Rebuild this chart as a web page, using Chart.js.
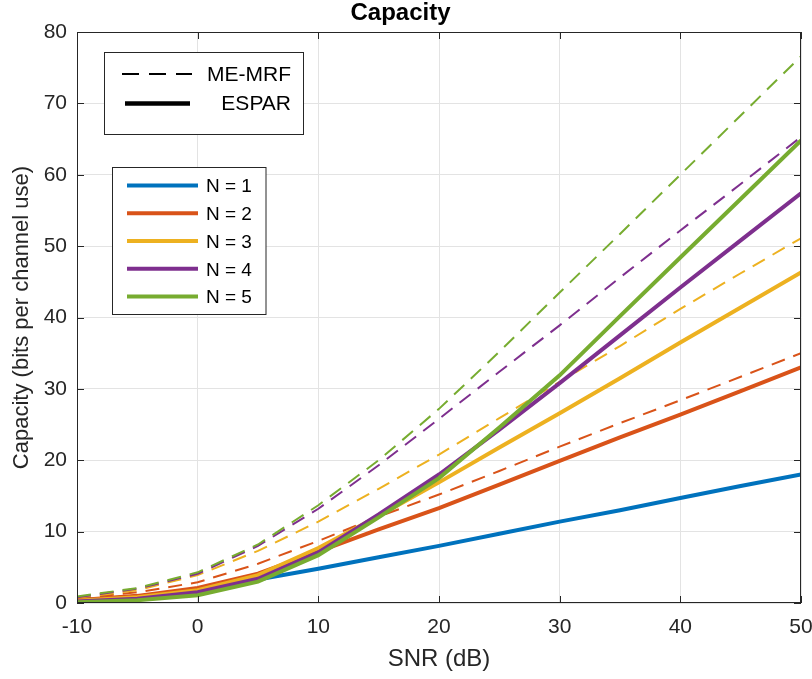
<!DOCTYPE html>
<html>
<head>
<meta charset="utf-8">
<script src="https://cdn.jsdelivr.net/npm/chart.js@4.4.1/dist/chart.umd.min.js"></script>
<style>
  html, body { margin: 0; padding: 0; background: #ffffff; }
  #wrap { width: 812px; height: 679px; }
</style>
</head>
<body>
<div id="wrap"><canvas id="c" width="812" height="679"></canvas></div>
<script>
// ---- Data ----
const snrDb = [-10, -5, 0, 5, 10, 15, 20, 25, 30, 35, 40, 45, 50];

// ESPAR (solid lines)
const esparN1 = [0.35, 0.9, 1.8, 3.3, 4.8, 6.4, 8.0, 9.7, 11.4, 13.0, 14.7, 16.4, 18.0];
const esparN2 = [0.4, 1.0, 2.1, 4.1, 7.2, 10.3, 13.3, 16.6, 19.9, 23.2, 26.4, 29.7, 33.0];
const esparN3 = [0.3, 0.8, 1.8, 3.9, 7.7, 12.2, 16.9, 21.8, 26.6, 31.5, 36.5, 41.4, 46.3];
const esparN4 = [0.2, 0.6, 1.5, 3.4, 7.1, 12.4, 18.0, 24.3, 30.8, 37.5, 44.2, 50.8, 57.4];
const esparN5 = [0.1, 0.4, 1.1, 3.0, 6.7, 12.0, 17.5, 24.6, 31.9, 40.2, 48.4, 56.6, 64.8];

// ME-MRF (dashed lines)
const memrfN1 = [0.45, 1.0, 1.9, 3.3, 4.8, 6.4, 8.0, 9.7, 11.4, 13.0, 14.7, 16.4, 18.0];
const memrfN2 = [0.6, 1.5, 2.9, 5.5, 8.7, 12.1, 15.2, 18.5, 21.9, 25.2, 28.4, 31.7, 35.0];
const memrfN3 = [0.7, 1.8, 3.9, 7.3, 11.4, 16.0, 20.8, 25.9, 31.0, 36.0, 41.2, 46.2, 51.1];
const memrfN4 = [0.8, 2.0, 4.1, 8.0, 13.2, 19.3, 25.8, 32.4, 38.9, 45.6, 52.2, 58.7, 65.3];
const memrfN5 = [0.9, 2.1, 4.3, 8.2, 13.7, 20.0, 27.2, 35.2, 43.5, 51.7, 60.0, 68.3, 76.6];

const xTickLabels = [-10, 0, 10, 20, 30, 40, 50];
const yTickLabels = [0, 10, 20, 30, 40, 50, 60, 70, 80];

const seriesNames = ['N = 1', 'N = 2', 'N = 3', 'N = 4', 'N = 5'];
const styleNames = ['ME-MRF', 'ESPAR'];
const titleText = 'Capacity';
const xTitle = 'SNR (dB)';
const yTitle = 'Capacity (bits per channel use)';

// ---- Styles ----
const colors = ['#0072BD', '#D95319', '#EDB120', '#7E2F8E', '#77AC30'];
const axisColor = '#262626';
const FONT = "'Liberation Sans', Arial, Helvetica, sans-serif";

const espar = [esparN1, esparN2, esparN3, esparN4, esparN5];
const memrf = [memrfN1, memrfN2, memrfN3, memrfN4, memrfN5];
const toPts = arr => snrDb.map((x, i) => ({ x: x, y: arr[i] }));

// dataset 0 is drawn on top in Chart.js; put ESPAR N=5 first
const datasets = [];
for (let n = 4; n >= 0; n--) {
  datasets.push({
    label: 'ESPAR ' + seriesNames[n],
    data: toPts(espar[n]),
    borderColor: colors[n],
    backgroundColor: colors[n],
    borderWidth: 4,
    pointRadius: 0,
    tension: 0,
    fill: false
  });
}
for (let n = 4; n >= 0; n--) {
  datasets.push({
    label: 'ME-MRF ' + seriesNames[n],
    data: toPts(memrf[n]),
    borderColor: colors[n],
    backgroundColor: colors[n],
    borderWidth: 2,
    borderDash: [14, 9],
    pointRadius: 0,
    tension: 0,
    fill: false
  });
}

const framePlugin = {
  id: 'matlabFrame',
  afterDraw(chart) {
    const ctx = chart.ctx;
    const a = chart.chartArea;
    const xs = chart.scales.x, ys = chart.scales.y;
    ctx.save();
    // frame
    ctx.strokeStyle = axisColor;
    ctx.lineWidth = 1;
    ctx.strokeRect(Math.round(a.left) + 0.5, Math.round(a.top) + 0.5,
                   Math.round(a.right - a.left) - 1, Math.round(a.bottom - a.top) - 1);
    // inward ticks
    const tl = 7;
    ctx.beginPath();
    xTickLabels.forEach(v => {
      const px = Math.round(xs.getPixelForValue(v)) + 0.5;
      ctx.moveTo(px, a.bottom); ctx.lineTo(px, a.bottom - tl);
      ctx.moveTo(px, a.top); ctx.lineTo(px, a.top + tl);
    });
    yTickLabels.forEach(v => {
      const py = Math.round(ys.getPixelForValue(v)) + 0.5;
      ctx.moveTo(a.left, py); ctx.lineTo(a.left + tl, py);
      ctx.moveTo(a.right, py); ctx.lineTo(a.right - tl, py);
    });
    ctx.stroke();

    // legend 1 : line styles
    ctx.fillStyle = '#ffffff';
    ctx.fillRect(104.5, 52.5, 199, 82);
    ctx.strokeStyle = axisColor;
    ctx.lineWidth = 1;
    ctx.strokeRect(104.5, 52.5, 199, 82);
    ctx.strokeStyle = '#000000';
    ctx.lineWidth = 2;
    ctx.setLineDash([17, 10]);
    ctx.beginPath(); ctx.moveTo(122, 74); ctx.lineTo(192, 74); ctx.stroke();
    ctx.setLineDash([]);
    ctx.lineWidth = 4.5;
    ctx.beginPath(); ctx.moveTo(125, 103.5); ctx.lineTo(190, 103.5); ctx.stroke();
    ctx.fillStyle = '#000000';
    ctx.font = '21px ' + FONT;
    ctx.textBaseline = 'middle';
    ctx.textAlign = 'right';
    ctx.fillText(styleNames[0], 291, 75);
    ctx.fillText(styleNames[1], 291, 104.5);

    // legend 2 : colours
    ctx.fillStyle = '#ffffff';
    ctx.fillRect(112.5, 167.5, 153.5, 147);
    ctx.strokeStyle = axisColor;
    ctx.lineWidth = 1;
    ctx.strokeRect(112.5, 167.5, 153.5, 147);
    const ys2 = [185.5, 213.3, 241, 268.8, 296.6];
    ctx.font = '19px ' + FONT;
    ctx.textAlign = 'left';
    for (let n = 0; n < 5; n++) {
      ctx.strokeStyle = colors[n];
      ctx.lineWidth = 4;
      ctx.beginPath(); ctx.moveTo(127, ys2[n]); ctx.lineTo(198, ys2[n]); ctx.stroke();
      ctx.fillStyle = '#000000';
      ctx.fillText(seriesNames[n], 206, ys2[n] + 1.5);
    }
    ctx.restore();
  }
};

Chart.defaults.font.family = FONT;
Chart.defaults.color = axisColor;

new Chart(document.getElementById('c'), {
  type: 'line',
  data: { datasets: datasets },
  options: {
    responsive: false,
    animation: false,
    devicePixelRatio: 1,
    layout: { padding: { left: 0, right: 11, top: 0, bottom: 0 } },
    plugins: {
      legend: { display: false },
      tooltip: { enabled: false },
      title: {
        display: true,
        text: titleText,
        color: '#000000',
        font: { size: 24, weight: 'bold', lineHeight: 1.0 },
        padding: { top: 1, bottom: 7 }
      }
    },
    scales: {
      x: {
        type: 'linear',
        min: xTickLabels[0],
        max: xTickLabels[xTickLabels.length - 1],
        afterBuildTicks: s => { s.ticks = xTickLabels.map(v => ({ value: v })); },
        ticks: { font: { size: 21 }, color: axisColor, padding: 12, maxRotation: 0, autoSkip: false },
        grid: { color: '#e3e3e3', lineWidth: 1, drawTicks: false },
        border: { display: false },
        title: { display: true, text: xTitle, color: axisColor, font: { size: 24 }, padding: { top: 0, bottom: 5 } },
        afterFit: s => { s.height = 76; s.paddingLeft = 0; s.paddingRight = 0; }
      },
      y: {
        type: 'linear',
        min: yTickLabels[0],
        max: yTickLabels[yTickLabels.length - 1],
        afterBuildTicks: s => { s.ticks = yTickLabels.map(v => ({ value: v })); },
        ticks: { font: { size: 21 }, color: axisColor, padding: 10, autoSkip: false },
        grid: { color: '#e3e3e3', lineWidth: 1, drawTicks: false },
        border: { display: false },
        title: { display: true, text: yTitle, color: axisColor, font: { size: 22 }, padding: { top: 9, bottom: 0 } },
        afterFit: s => { s.width = 77; s.paddingTop = 0; s.paddingBottom = 0; }
      }
    }
  },
  plugins: [framePlugin]
});
</script>
</body>
</html>
